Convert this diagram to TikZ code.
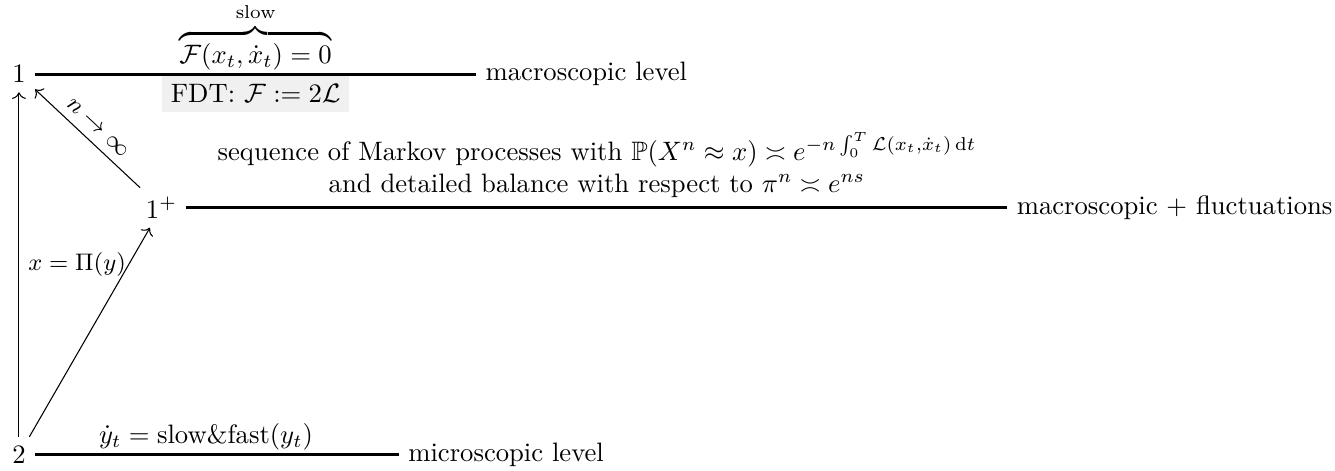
\documentclass[tikz,border=0pt]{standalone}
\usepackage{amssymb,amsmath,amstext}
\usetikzlibrary{arrows.meta, positioning}

\begin{document}
\begin{tikzpicture}[
    lvl/.style={very thick},
    arr/.style={->},
    law/.style={above,inner sep=1pt},
    fdtbox/.style={below,fill=gray!12},
    maplab/.style={font=\small}
]
\useasboundingbox (-0.25,-0.2) rectangle (17.36,6.0);
\node (two)     at (0,0)       {$2$};
\node (one)     at (0,5.02)    {$1$};
\node (oneplus) at (1.88,3.26) {$1^+$};
\node[right=5.82cm of one]      (macro) {macroscopic level};
\node[right=10.83cm of oneplus] (fluct) {macroscopic + fluctuations};
\node[right=4.80cm of two]      (micro) {microscopic level};
\draw[lvl] (one) -- node[law] (slowlaw) {$\overbrace{\mathcal{F}(x_t,\dot{x}_t)=0}^{\text{slow}}$}
                    node[fdtbox] (fdt) {FDT: $\mathcal{F}:=2\mathcal{L}$} (macro);
\draw[lvl] (oneplus) -- node[above,align=center] (markov)
    {sequence of Markov processes with $\mathbb{P}(X^n\approx x)\asymp e^{-n\int_0^T\mathcal{L}(x_t,\dot{x}_t)\,\mathrm{d}t}$\\
     and detailed balance with respect to $\pi^n\asymp e^{ns}$} (fluct);
\draw[lvl] (two) -- node[law,pos=0.47] (fastlaw) {$\dot{y}_t=\text{slow\&fast}(y_t)$} (micro);
\draw[arr] (two) -- node[maplab,right] (proj) {$x=\Pi(y)$} (one);
\draw[arr] (two) -- (oneplus);
\draw[arr] (oneplus) -- node[maplab,sloped,above] (limit) {$n\to\infty$} (one);
\end{tikzpicture}
\end{document}
